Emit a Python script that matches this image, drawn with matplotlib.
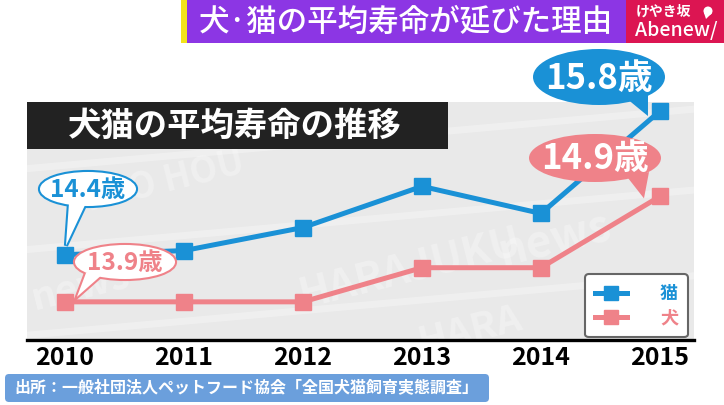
import matplotlib
matplotlib.use("Agg")
import matplotlib.pyplot as plt
from matplotlib.patches import Ellipse, Polygon, Rectangle, FancyBboxPatch, Circle

plt.rcParams['font.family'] = ['Noto Sans CJK JP', 'DejaVu Sans']

# data (平均寿命, 歳)
years = ['2010', '2011', '2012', '2013', '2014', '2015']
cat_life = [14.36, 14.40, 14.63, 15.04, 14.77, 15.79]
dog_life = [13.89, 13.89, 13.89, 14.23, 14.23, 14.94]
series_names = ['猫', '犬']

banner_title = '犬·猫の平均寿命が延びた理由'
chart_title = '犬猫の平均寿命の推移'
source_text = '出所：一般社団法人ペットフード協会「全国犬猫飼育実態調査」'

CAT = '#1a91d6'
DOG = '#ef8289'
W, H = 724, 405

fig = plt.figure(figsize=(W / 100, H / 100), dpi=100)
fig.patch.set_facecolor('white')

# plotting area (gray panel), pixel box x 27..694, y 102..340
ax = fig.add_axes([27 / W, (H - 340) / H, 667 / W, 238 / H], zorder=1)
ax.set_facecolor('#e9e9e9')
xs = list(range(len(years)))
ax.plot(xs, cat_life, color=CAT, lw=3.6, marker='s', ms=12, label=series_names[0], zorder=4)
ax.plot(xs, dog_life, color=DOG, lw=3.6, marker='s', ms=12, label=series_names[1], zorder=4)
ax.set_xlim(-0.319, 5.286)
ax.set_ylim(13.51, 15.88)
ax.set_yticks([])
ax.set_xticks(xs, years)
ax.tick_params(axis='x', length=0, pad=4)
for t in ax.get_xticklabels():
    t.set_fontsize(18)
    t.set_fontweight('bold')
for s in ['top', 'left', 'right']:
    ax.spines[s].set_visible(False)
ax.spines['bottom'].set_linewidth(2.4)
ax.spines['bottom'].set_color('black')

# faint watermark in the panel
for txt, x, y, rot, sz in [('HARAJUKU', 0.40, 0.30, 14, 30), ('news', 0.70, 0.42, 14, 32),
                           ('KITO HOU', 0.06, 0.66, 14, 26), ('news', 0.0, 0.22, 14, 28),
                           ('HARA', 0.58, 0.04, 14, 28)]:
    ax.text(x, y, txt, transform=ax.transAxes, rotation=rot, fontsize=sz, color='white',
            alpha=0.3, fontweight='bold', ha='left', va='center', zorder=1, clip_on=True)
for y0 in [0.72, 0.38, 0.02]:
    ax.plot([0, 1], [y0, y0 + 0.25], transform=ax.transAxes, color='white', lw=5, alpha=0.3, zorder=1)

leg = ax.legend(loc='upper left', bbox_to_anchor=((585 - 27) / 667, (340 - 274) / 238),
                borderaxespad=0, frameon=True, fancybox=True, edgecolor='#666666',
                facecolor='white', framealpha=1, handlelength=1.8, handletextpad=1.8,
                labelspacing=0.3, borderpad=0.55, markerscale=0.8,
                prop={'size': 13, 'weight': 'bold'}, labelcolor='linecolor')
leg.get_frame().set_linewidth(1.5)
leg.set_zorder(6)

# overlay in pixel coordinates for the broadcast decorations
ov = fig.add_axes([0, 0, 1, 1], zorder=2)
ov.set_xlim(0, W)
ov.set_ylim(H, 0)
ov.axis('off')
ov.patch.set_alpha(0)


def to_px(x, y):
    return ov.transData.inverted().transform(ax.transData.transform((x, y)))


# top banner
ov.add_patch(Rectangle((181, 0), 6, 43, color='#f3e31a', lw=0))
ov.add_patch(Rectangle((187, 0), 439, 43, color='#8c36e4', lw=0))
ov.add_patch(Rectangle((626, 0), 98, 43, color='#dc1552', lw=0))
ov.text(406, 22, banner_title, color='white', fontsize=22, ha='center', va='center', fontweight='medium')
ov.text(636, 12, 'けやき坂', color='white', fontsize=10, ha='left', va='center', fontweight='bold')
ov.add_patch(Circle((708, 11), 4.5, color='white', lw=0))
ov.add_patch(Polygon([(704, 13), (712, 13), (706, 19)], color='white', lw=0))
ov.text(635, 31, 'Abenew/', color='white', fontsize=14, ha='left', va='center', fontweight='medium')

# chart title bar
ov.add_patch(Rectangle((27, 102), 421, 47, color='#222222', lw=0))
ov.text(68, 126, chart_title, color='white', fontsize=24, ha='left', va='center', fontweight='bold')

# source bar
ov.add_patch(FancyBboxPatch((5, 374), 484, 28, boxstyle='round,pad=0,rounding_size=4',
                            color='#6b9fdc', lw=0))
ov.text(14, 388, source_text, color='white', fontsize=11.5, ha='left', va='center', fontweight='bold')


def bubble(center, size, base, tip, face, edge, text, tcolor, fsize):
    cx, cy = center
    w, h = size
    tail = [base[0], base[1], tip]
    if edge is not None:
        ov.add_patch(Ellipse((cx, cy), w, h, fc=edge, ec=edge, lw=3, zorder=3))
        ov.add_patch(Polygon(tail, fc=edge, ec=edge, lw=3, zorder=3, joinstyle='miter'))
    ov.add_patch(Ellipse((cx, cy), w, h, fc=face, ec='none', zorder=4))
    ov.add_patch(Polygon(tail, fc=face, ec='none', zorder=4))
    ov.text(cx, cy + 1, text, color=tcolor, fontsize=fsize, fontweight='bold',
            ha='center', va='center', zorder=5)


def lab(v):
    return f'{v:.1f}歳'


p = to_px(0, cat_life[0])
bubble((88, 189), (96, 34), [(69, 203), (86, 203)], (p[0] + 1, p[1] - 9),
       'white', CAT, lab(cat_life[0]), CAT, 17.5)
p = to_px(0, dog_life[0])
bubble((125, 262), (100, 34), [(86, 273), (104, 273)], (p[0] + 12, p[1] - 5),
       'white', DOG, lab(dog_life[0]), DOG, 17.5)
p = to_px(5, cat_life[-1])
bubble((599, 77), (132, 56), [(626, 98), (648, 94)], (p[0] - 12, p[1] + 5),
       CAT, None, lab(cat_life[-1]), 'white', 25)
p = to_px(5, dog_life[-1])
bubble((595, 158), (132, 48), [(628, 178), (649, 172)], (p[0] - 16, p[1] + 2),
       DOG, None, lab(dog_life[-1]), 'white', 25)

fig.savefig('out.png', dpi=100)
